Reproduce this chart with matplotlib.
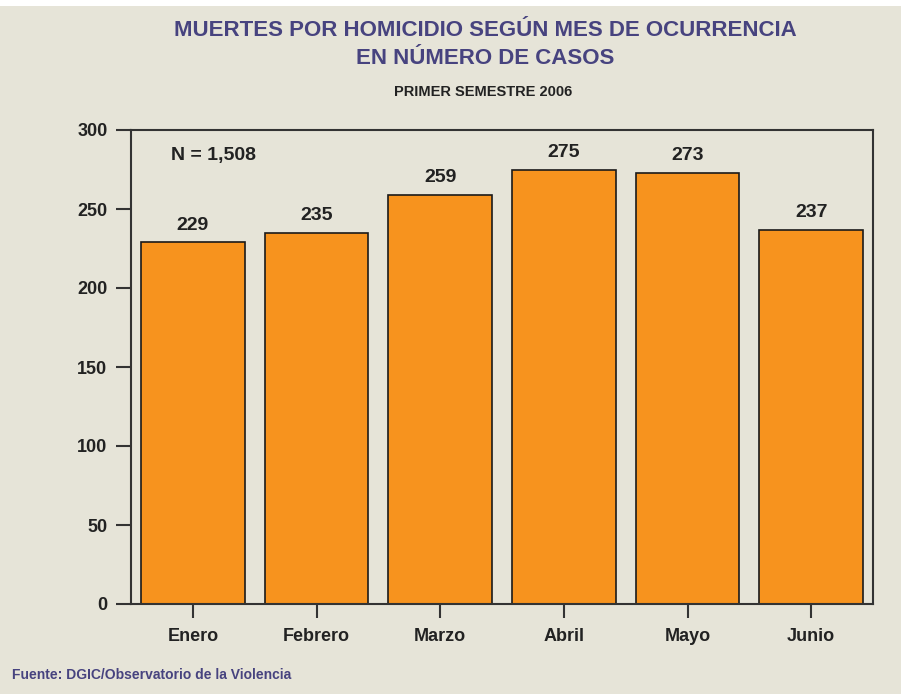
import matplotlib
matplotlib.use("Agg")
import matplotlib.pyplot as plt
from matplotlib.patches import Rectangle

# data
months = ["Enero", "Febrero", "Marzo", "Abril", "Mayo", "Junio"]
cases = [229, 235, 259, 275, 273, 237]
y_ticks = [0, 50, 100, 150, 200, 250, 300]
total_label = "N = 1,508"

bg = "#e6e4d8"
bar_color = "#f7931e"
title_color = "#47437f"
text_color = "#222222"

plt.rcParams["font.family"] = ["Liberation Sans", "DejaVu Sans"]

fig = plt.figure(figsize=(9.01, 6.94), dpi=100, facecolor=bg)
# thin white strip along the top edge, as in the scanned page
fig.patches.append(Rectangle((0, 1 - 6 / 694), 1, 6 / 694, transform=fig.transFigure,
                             facecolor="white", edgecolor="none"))

ax = fig.add_axes([131 / 901, 1 - 604 / 694, 742 / 901, 474 / 694])
ax.set_facecolor(bg)

x = range(len(months))
bars = ax.bar(x, cases, width=0.84, color=bar_color, edgecolor="#1a1a1a", linewidth=1.2, zorder=2)

for rect, v in zip(bars, cases):
    ax.annotate(str(v), (rect.get_x() + rect.get_width() / 2, v), xytext=(0, 6),
                textcoords="offset points", ha="center", va="bottom",
                fontsize=14, fontweight="bold", color=text_color)

ax.set_xlim(-0.5, len(months) - 0.5)
ax.set_ylim(0, 300)
ax.set_yticks(y_ticks)
ax.set_xticks(list(x))
ax.set_xticklabels(months)

for s in ax.spines.values():
    s.set_linewidth(1.5)
    s.set_color("#333333")

ax.tick_params(axis="y", direction="out", length=11, width=1.5, pad=6,
               labelsize=13, colors="#333333", labelcolor=text_color)
ax.tick_params(axis="x", direction="out", length=10, width=1.5, pad=7,
               labelsize=13, colors="#333333", labelcolor=text_color)
for lbl in ax.get_xticklabels() + ax.get_yticklabels():
    lbl.set_fontweight("bold")

ax.text(0.054, 0.946, total_label, transform=ax.transAxes, ha="left", va="center",
        fontsize=14, fontweight="bold", color=text_color)

fig.text(485 / 901, 1 - 31 / 694, "MUERTES POR HOMICIDIO SEGÚN MES DE OCURRENCIA",
         ha="center", va="center", fontsize=16, fontweight="bold", color=title_color)
fig.text(485 / 901, 1 - 58 / 694, "EN NÚMERO DE CASOS",
         ha="center", va="center", fontsize=16, fontweight="bold", color=title_color)
fig.text(483 / 901, 1 - 92 / 694, "PRIMER SEMESTRE 2006",
         ha="center", va="center", fontsize=10.5, fontweight="bold", color=text_color)
fig.text(12 / 901, 1 - 675 / 694, "Fuente: DGIC/Observatorio de la Violencia",
         ha="left", va="center", fontsize=10, fontweight="bold", color=title_color)

fig.savefig("out.png", dpi=100, facecolor=bg)
